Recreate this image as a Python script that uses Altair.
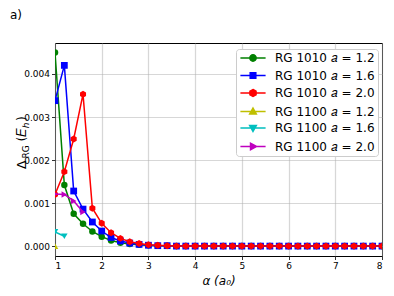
import altair as alt
import pandas as pd

alpha = [round(1.0 + 0.2 * i, 1) for i in range(36)]

labels = ["RG 1010 𝑎 = 1.2", "RG 1010 𝑎 = 1.6", "RG 1010 𝑎 = 2.0",
          "RG 1100 𝑎 = 1.2", "RG 1100 𝑎 = 1.6", "RG 1100 𝑎 = 2.0"]
colors = ["#008000", "#0000ff", "#ff0000", "#bfbf00", "#00bfbf", "#bf00bf"]

g_1010_12 = [0.00450, 0.00142, 0.00075, 0.00052, 0.00034, 0.00022, 0.00013, 0.00008,
             0.00005, 0.00003, 0.00002, 0.00001, 0.00001] + [0.0] * 23
g_1010_16 = [0.00338, 0.00420, 0.00128, 0.00086, 0.00056, 0.00035, 0.00020, 0.00012,
             0.00007, 0.00004, 0.00002, 0.00001, 0.00001] + [0.0] * 23
g_1010_20 = [0.00120, 0.00173, 0.00249, 0.00353, 0.00088, 0.00053, 0.00031, 0.00018,
             0.00010, 0.00006, 0.00003, 0.00002, 0.00001] + [0.0] * 23
g_1100_12 = [0.0]
g_1100_16 = [0.00033, 0.00023]
g_1100_20 = [0.00121, 0.00120, 0.00105, 0.00079]

series = [g_1010_12, g_1010_16, g_1010_20, g_1100_12, g_1100_16, g_1100_20]

hexagon = "M0,-1L0.87,-0.5L0.87,0.5L0,1L-0.87,0.5L-0.87,-0.5Z"
marker_shapes = ["circle", "square", hexagon, "triangle-up", "triangle-down", "triangle-right"]
marker_sizes = [42, 46, 48, 42, 42, 42]

seg = "M-3.6,0H3.6"
legend_shapes = [
    seg + "M0.9,0A0.9,0.9,0,1,1,-0.9,0A0.9,0.9,0,1,1,0.9,0Z",
    seg + "M-0.8,-0.8H0.8V0.8H-0.8Z",
    seg + "M0,-1L0.87,-0.5L0.87,0.5L0,1L-0.87,0.5L-0.87,-0.5Z",
    seg + "M0,-1L0.95,0.7L-0.95,0.7Z",
    seg + "M0,1L0.95,-0.7L-0.95,-0.7Z",
    seg + "M1,0L-0.7,-0.95L-0.7,0.95Z",
]

FONT = "DejaVu Sans"

xs = alt.X("x:Q", scale=alt.Scale(domain=[1, 8], nice=False, zero=False),
           axis=alt.Axis(values=list(range(1, 9)), format="d", title="α (a₀)",
                         titleFontSize=12, titleFontWeight="normal", titleFontStyle="italic",
                         titlePadding=5))
ys = alt.Y("y:Q", scale=alt.Scale(domain=[-0.00023, 0.00472], nice=False, zero=False),
           axis=alt.Axis(values=[0, 0.001, 0.002, 0.003, 0.004], format=".3f", title=None))

layers = []
for vals, col, shp, sz in zip(series, colors, marker_shapes, marker_sizes):
    df = pd.DataFrame({"x": alpha[:len(vals)], "y": vals})
    base = alt.Chart(df).encode(x=xs, y=ys)
    layers.append(base.mark_line(color=col, strokeWidth=1.5, clip=True))
    layers.append(base.mark_point(shape=shp, filled=True, color=col, size=sz, opacity=1, clip=True))

leg_df = pd.DataFrame({"s": labels})
legend_layer = alt.Chart(leg_df).mark_point(filled=True, opacity=1).encode(
    fill=alt.Fill("s:N", scale=alt.Scale(domain=labels, range=colors),
                  legend=alt.Legend(orient="none", legendX=181, legendY=6, title=None,
                                    symbolSize=49, symbolStrokeWidth=1.5, symbolOffset=8,
                                    labelOffset=16, labelFontSize=12, labelFont=FONT,
                                    labelColor="black", labelLimit=300, rowPadding=4.5,
                                    padding=3, fillColor="white", strokeColor="#cccccc",
                                    cornerRadius=3)),
    stroke=alt.Stroke("s:N", scale=alt.Scale(domain=labels, range=colors)),
    shape=alt.Shape("s:N", scale=alt.Scale(domain=labels, range=legend_shapes)),
).transform_filter("false")

# annotation texts
panel = alt.Chart(pd.DataFrame({"t": ["a)"]})).mark_text(
    align="left", baseline="middle", fontSize=12, font=FONT, color="black"
).encode(text="t:N", x=alt.value(-45), y=alt.value(-28))

ytitle_parts = ["Δ", "RG", "(𝐸", "ℎ", ")"]
ytitle_y = [126, 115.5, 98.5, 85.2, 78.0]
ytitle_x = [-33, -29.5, -33, -29.5, -33]
ytitle_fs = [12.5, 9, 12.5, 9, 12.5]
ytitle_layers = []
for t, yy, xx, fs in zip(ytitle_parts, ytitle_y, ytitle_x, ytitle_fs):
    ytitle_layers.append(
        alt.Chart(pd.DataFrame({"t": [t]})).mark_text(
            align="left", baseline="middle", angle=270, fontSize=fs, font=FONT, color="black"
        ).encode(text="t:N", x=alt.value(xx), y=alt.value(yy))
    )

chart = alt.layer(*layers, legend_layer, panel, *ytitle_layers).properties(
    width=327, height=213,
    padding={"left": 47, "top": 35, "right": 4, "bottom": 40},
    autosize=alt.AutoSizeParams(type="none"),
).configure_view(stroke="black", strokeWidth=1).configure_axis(
    grid=True, gridColor="#b0b0b0", gridOpacity=0.5, gridWidth=1.2,
    domain=False, ticks=True, tickColor="black", tickSize=3.5, tickWidth=0.8,
    labelFont=FONT, labelFontSize=9, labelColor="black", labelPadding=2,
    titleFont=FONT, titleColor="black",
).configure_axisX(labelAngle=0).configure_legend(symbolType="circle")

chart.save("out.html", embed_options={"renderer": "svg", "actions": False})
